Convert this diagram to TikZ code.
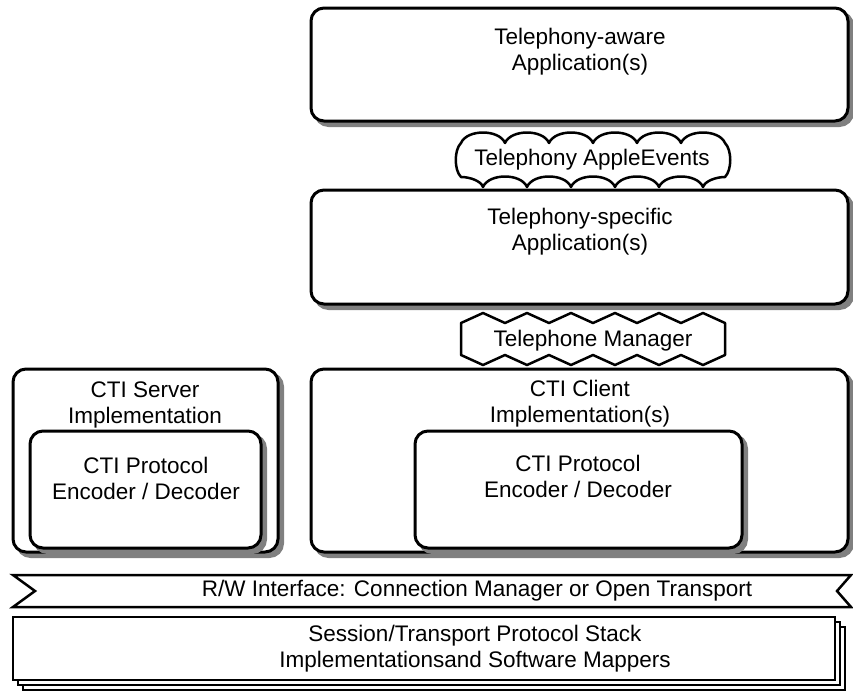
\documentclass[tikz,border=0pt]{standalone}
\usepackage{fontspec}
\setmainfont{Liberation Sans}

\begin{document}
\begin{tikzpicture}[x=1pt,y=-1pt,
        every node/.style={font=\fontsize{22.5}{26}\selectfont,align=center,inner sep=0pt},
        layer/.style 2 args={draw,line width=3pt,fill=white,rounded corners=13pt,
            minimum width=#1,minimum height=#2,
            preaction={draw=gray,fill=gray,transform canvas={xshift=4.5pt,yshift=-4.5pt}}},
        band/.style={draw,line width=2.5pt,fill=white,line join=round},
        stackbox/.style={draw,line width=2.5pt,fill=white,minimum width=822pt,minimum height=63pt,
            preaction={draw,fill=white,transform canvas={xshift=10pt,yshift=-10pt}},
            preaction={draw,fill=white,transform canvas={xshift=5pt,yshift=-5pt}}}
    ]
    \useasboundingbox (0,0) rectangle (853,691);

    % applications
    \node[layer={537pt}{113pt}] (aware) at (579.5,64.5) {};
    \node[layer={537pt}{114pt}] (specific) at (579.5,247) {};

    % CTI implementations
    \node[layer={265pt}{183pt}] (server) at (145.5,460.5) {};
    \node[layer={537pt}{183pt}] (client) at (579.5,460.5) {};
    \node[layer={231pt}{117pt}] (serverCodec) at (145.5,489.5) {};
    \node[layer={327pt}{117pt}] (clientCodec) at (578.5,489.5) {};

    % AppleEvents cloud
    \draw[band] (461,143)
        foreach \x in {505,549,...,725} { .. controls +(6,-14) and +(-6,-14) .. (\x,143) }
        .. controls (732,150) and (732,170) .. (725,177)
        .. controls (716,177) and (705,181) .. (703,187)
        foreach \x in {659,615,...,483} { .. controls +(-6,-14) and +(6,-14) .. (\x,187) }
        .. controls (481,181) and (470,177) .. (461,177)
        .. controls (454,170) and (454,150) .. (461,143) -- cycle;

    % Telephone Manager band
    \draw[band] (461,323)
        foreach \x in {483,527,...,703} { -- (\x,313) -- ++(22,10) }
        -- (725,355)
        foreach \x in {703,659,...,483} { -- (\x,365) -- ++(-22,-10) }
        -- cycle;

    % R/W interface ribbon
    \draw[band,line join=miter] (13,575) -- (851,575) -- (837,591) -- (851,607)
        -- (13,607) -- (35,591) -- cycle;

    % protocol stack
    \node[stackbox] (stack) at (424,648.5) {};

    \node (awareTxt) at (580,52) {Telephony-aware\\Application(s)};
    \node (eventsTxt) at (592,160) {Telephony AppleEvents};
    \node (specificTxt) at (580,232) {Telephony-specific\\Application(s)};
    \node (managerTxt) at (593,341) {Telephone Manager};
    \node (serverTxt) at (145,405) {CTI Server\\Implementation};
    \node (serverCodecTxt) at (146,478) {CTI Protocol\\Encoder / Decoder};
    \node (clientTxt) at (580,404) {CTI Client\\Implementation(s)};
    \node (clientCodecTxt) at (578,476) {CTI Protocol\\Encoder / Decoder};
    \node (rwTxt) at (477,591) {R/W Interface: Connection Manager or Open Transport};
    \node (stackTxt) at (475,649) {Session/Transport Protocol Stack\\Implementationsand Software Mappers};
\end{tikzpicture}
\end{document}
